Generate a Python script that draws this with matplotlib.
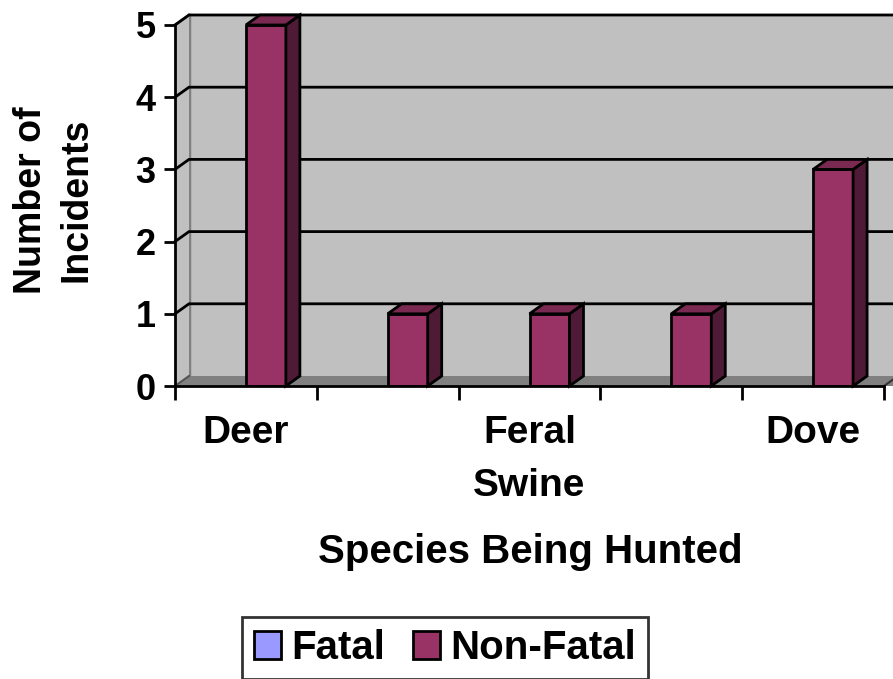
import matplotlib
matplotlib.use("Agg")
import matplotlib.pyplot as plt
from matplotlib.patches import Polygon, Rectangle
import numpy as np

# ---- data ----
categories = ["Deer", "", "Feral\nSwine", "", "Dove"]
fatal = [0, 0, 0, 0, 0]
non_fatal = [5, 1, 1, 1, 3]
y_ticks = [0, 1, 2, 3, 4, 5]
series_names = ["Fatal", "Non-Fatal"]
x_title = "Species Being Hunted"
y_title = "Number of\nIncidents"

plt.rcParams['font.family'] = ['Liberation Sans', 'DejaVu Sans']
plt.rcParams['font.weight'] = 'bold'

W, H = 893, 679
fig = plt.figure(figsize=(W / 100, H / 100), dpi=100)
x0, x1 = 175, 884
y0, y1 = 386, 25
ax = fig.add_axes([x0 / W, 1 - y0 / H, (x1 - x0) / W, (y0 - y1) / H])
n = len(categories)
ymax = y_ticks[-1]
ax.set_xlim(-0.5, n - 0.5)
ax.set_ylim(0, ymax)
ax.patch.set_visible(False)
for s in ax.spines.values():
    s.set_visible(False)

# depth in data units (from pixel depth)
dpx, dpy = 14, 10
dx = dpx * n / (x1 - x0)
dy = dpy * ymax / (y0 - y1)
L, R = -0.5, n - 0.5

wall_c = "#C0C0C0"
floor_c = "#808080"
edge_gray = "#808080"

# back wall
ax.add_patch(Rectangle((L + dx, dy), (R - L) + 1, ymax, facecolor=wall_c,
                       edgecolor="none", zorder=0, clip_on=False))
ax.plot([L + dx, L + dx], [dy, ymax + dy], color=edge_gray, lw=2.5, zorder=0.5, clip_on=False)
ax.plot([L + dx, R + 1], [ymax + dy, ymax + dy], color=edge_gray, lw=1.5, zorder=0.5, clip_on=False)
# left wall
ax.add_patch(Polygon([(L, 0), (L + dx, dy), (L + dx, ymax + dy), (L, ymax)],
                     closed=True, facecolor=wall_c, edgecolor="none", zorder=0.6, clip_on=False))
ax.plot([L, L + dx], [ymax, ymax + dy], color=edge_gray, lw=2, zorder=0.7, clip_on=False)
# floor
ax.add_patch(Polygon([(L, 0), (R + 1, 0), (R + 1 + dx, dy), (L + dx, dy)],
                     closed=True, facecolor=floor_c, edgecolor="none", zorder=0.8, clip_on=False))
ax.plot([L, L + dx], [0, dy], color="#555555", lw=1.5, zorder=0.9, clip_on=False)
ax.plot([R, R + dx], [0, dy], color="#333333", lw=1.5, zorder=0.9, clip_on=False)

# gridlines
for v in y_ticks[1:]:
    ax.plot([L, L + dx, R + 1], [v, v + dy, v + dy], color="black", lw=2,
            zorder=1, clip_on=False, solid_joinstyle="miter")

# axes lines
ax.plot([L, L], [0, ymax], color="black", lw=2, zorder=5, clip_on=False)
ax.plot([L, R], [0, 0], color="black", lw=2, zorder=5, clip_on=False)

# bars
w = 0.282
xs = np.arange(n)
front_c = ["#9999FF", "#993366"]
side_c = ["#4D4D80", "#4F1A36"]
top_c = ["#7A7ACC", "#7A2951"]
for si, vals in enumerate([fatal, non_fatal]):
    lefts = xs - w + si * w
    ax.bar(lefts, vals, width=w, align="edge", color=front_c[si],
           edgecolor="black", linewidth=2 if max(vals) > 0 else 0, zorder=3)
    for xl, h in zip(lefts, vals):
        if h <= 0:
            continue
        xr = xl + w
        ax.add_patch(Polygon([(xr, 0), (xr + dx, dy), (xr + dx, h + dy), (xr, h)], closed=True,
                             facecolor=side_c[si], edgecolor="black", lw=2, zorder=3,
                             joinstyle="miter", clip_on=False))
        ax.add_patch(Polygon([(xl, h), (xr, h), (xr + dx, h + dy), (xl + dx, h + dy)], closed=True,
                             facecolor=top_c[si], edgecolor="black", lw=2, zorder=3,
                             joinstyle="miter", clip_on=False))

# ticks
ax.set_yticks(y_ticks)
ax.set_yticklabels([str(v) for v in y_ticks], fontsize=26, fontweight="bold")
ax.tick_params(axis="y", which="major", length=8, width=2, direction="out", pad=6)
ax.set_xticks(np.arange(-0.5, n, 1.0))
ax.set_xticklabels([""] * (n + 1))
ax.tick_params(axis="x", which="major", length=10, width=2, direction="out")
ax.set_xticks(xs, minor=True)
ax.set_xticklabels(categories, minor=True, fontsize=28, fontweight="bold", linespacing=1.6)
ax.tick_params(axis="x", which="minor", length=0, pad=21)

fig.text(530 / W, 1 - 552 / H, x_title, ha="center", va="center", fontsize=29, fontweight="bold")
fig.text(54 / W, 1 - 200 / H, y_title, ha="center", va="center", rotation=90,
         fontsize=27, fontweight="bold", multialignment="center", linespacing=1.35)

handles = [Rectangle((0, 0), 1, 1, facecolor=c, edgecolor="black", lw=2) for c in front_c]
leg = fig.legend(handles, series_names, loc="center", bbox_to_anchor=(445 / W, 1 - 648 / H),
                 ncol=2, fontsize=29, frameon=True, fancybox=False, handlelength=0.67,
                 handleheight=0.67, handletextpad=0.25, columnspacing=0.7, borderpad=0.3,
                 borderaxespad=0)
leg.get_frame().set_edgecolor("black")
leg.get_frame().set_linewidth(2)
for t in leg.get_texts():
    t.set_fontweight("bold")

fig.savefig("out.png", dpi=100)
